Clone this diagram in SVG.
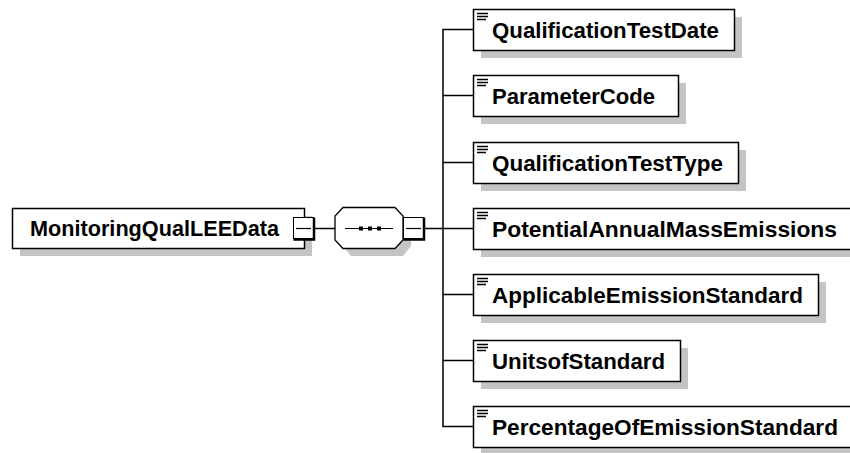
<svg xmlns="http://www.w3.org/2000/svg" width="850" height="453" viewBox="0 0 850 453">
<style>
.box{fill:#fff;stroke:#000;stroke-width:1.5}
.sh{fill:#c4c4c4}
.t{font-family:"Liberation Sans",Arial,sans-serif;font-weight:bold;font-size:22px;fill:#000}
.ln{stroke:#000;stroke-width:1.5;fill:none}
.ic{stroke:#000;stroke-width:1.4}
</style>
<rect width="850" height="453" fill="#fff"/>
<g id="connectors">
<line class="ln" x1="315" y1="228.5" x2="335" y2="228.5"/>
<line class="ln" x1="425" y1="228.5" x2="473" y2="228.5"/>
<polyline class="ln" points="473,29.5 443,29.5 443,426.5 473,426.5"/>
<line class="ln" x1="443" y1="95.5" x2="473" y2="95.5"/>
<line class="ln" x1="443" y1="162.5" x2="473" y2="162.5"/>
<line class="ln" x1="443" y1="294.5" x2="473" y2="294.5"/>
<line class="ln" x1="443" y1="360.5" x2="473" y2="360.5"/>
</g>
<g id="root">
<rect class="sh" x="20" y="216" width="292" height="40"/>
<rect class="box" x="12.5" y="208.5" width="292" height="40"/>
<text class="t" x="30" y="236" textLength="249" lengthAdjust="spacingAndGlyphs">MonitoringQualLEEData</text>
<rect x="293.5" y="217.5" width="20" height="21" fill="#fff" stroke="#000" stroke-width="1"/>
<path d="M314,217.5 V239.5 H293.5" stroke="#000" stroke-width="2.5" fill="none"/>
<line x1="296" y1="228.5" x2="311" y2="228.5" stroke="#000" stroke-width="1.2"/>
</g>
<g id="sequence">
<polygon class="sh" points="351,215 403,215 411,225 411,246 403,256 351,256 343,246 343,225"/>
<polygon fill="#fff" stroke="#000" stroke-width="1.3" points="343,207.5 395,207.5 403,216 403,240 395,248.5 343,248.5 335,240 335,216"/>
<line x1="345" y1="228.5" x2="393" y2="228.5" stroke="#000" stroke-width="1.2"/>
<rect x="359" y="226.5" width="4" height="4" fill="#000"/>
<rect x="368" y="226.5" width="4" height="4" fill="#000"/>
<rect x="377" y="226.5" width="4" height="4" fill="#000"/>
<rect x="403.5" y="217.5" width="20" height="21" fill="#fff" stroke="#000" stroke-width="1"/>
<path d="M424,217.5 V239.5 H403.5" stroke="#000" stroke-width="2.5" fill="none"/>
<line x1="406" y1="228.5" x2="421" y2="228.5" stroke="#000" stroke-width="1.2"/>
</g>
<g id="n1">
<rect class="sh" x="481" y="17" width="261" height="41"/>
<rect class="box" x="473.5" y="9.5" width="261" height="41"/>
<path class="ic" d="M477,13.5h11M477,16.5h11M477,19.5h9"/>
<text class="t" x="492" y="37.5" textLength="227" lengthAdjust="spacingAndGlyphs">QualificationTestDate</text>
</g>
<g id="n2">
<rect class="sh" x="481" y="83" width="205" height="41"/>
<rect class="box" x="473.5" y="75.5" width="205" height="41"/>
<path class="ic" d="M477,79.5h11M477,82.5h11M477,85.5h9"/>
<text class="t" x="492" y="103.5" textLength="163" lengthAdjust="spacingAndGlyphs">ParameterCode</text>
</g>
<g id="n3">
<rect class="sh" x="481" y="150" width="265" height="41"/>
<rect class="box" x="473.5" y="142.5" width="265" height="41"/>
<path class="ic" d="M477,146.5h11M477,149.5h11M477,152.5h9"/>
<text class="t" x="492" y="170.5" textLength="231" lengthAdjust="spacingAndGlyphs">QualificationTestType</text>
</g>
<g id="n4">
<rect class="sh" x="481" y="216" width="390" height="41"/>
<rect class="box" x="473.5" y="208.5" width="390" height="41"/>
<path class="ic" d="M477,212.5h11M477,215.5h11M477,218.5h9"/>
<text class="t" x="492" y="236.5" textLength="345" lengthAdjust="spacingAndGlyphs">PotentialAnnualMassEmissions</text>
</g>
<g id="n5">
<rect class="sh" x="481" y="282" width="345" height="41"/>
<rect class="box" x="473.5" y="274.5" width="345" height="41"/>
<path class="ic" d="M477,278.5h11M477,281.5h11M477,284.5h9"/>
<text class="t" x="492" y="302.5" textLength="311" lengthAdjust="spacingAndGlyphs">ApplicableEmissionStandard</text>
</g>
<g id="n6">
<rect class="sh" x="481" y="348" width="207" height="41"/>
<rect class="box" x="473.5" y="340.5" width="207" height="41"/>
<path class="ic" d="M477,344.5h11M477,347.5h11M477,350.5h9"/>
<text class="t" x="492" y="368.5" textLength="173" lengthAdjust="spacingAndGlyphs">UnitsofStandard</text>
</g>
<g id="n7">
<rect class="sh" x="481" y="414" width="390" height="41"/>
<rect class="box" x="473.5" y="406.5" width="390" height="41"/>
<path class="ic" d="M477,410.5h11M477,413.5h11M477,416.5h9"/>
<text class="t" x="492" y="434.5" textLength="346" lengthAdjust="spacingAndGlyphs">PercentageOfEmissionStandard</text>
</g>
</svg>
